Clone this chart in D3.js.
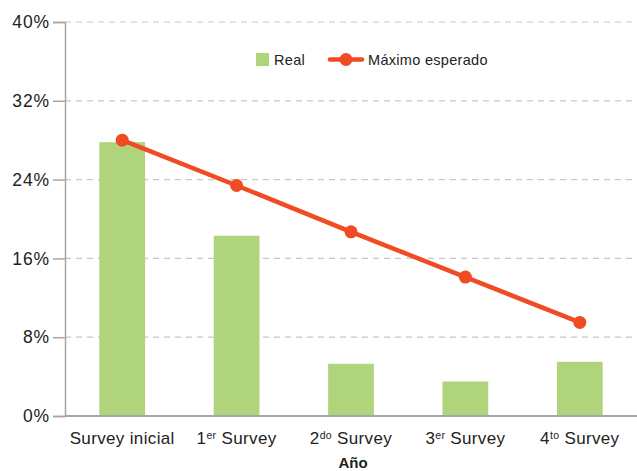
<!DOCTYPE html>
<html>
<head>
<meta charset="utf-8">
<script src="https://cdn.jsdelivr.net/npm/d3@7"></script>
<style>
  body { margin: 0; background: #fff; }
  svg { display: block; font-family: "Liberation Sans", Arial, sans-serif; }
</style>
</head>
<body>
<svg id="chart" width="637" height="471"></svg>
<script>
// Survey categories: [main text, superscript, rest]
const categories = ["Survey inicial", "1er Survey", "2do Survey", "3er Survey", "4to Survey"];
const categoryParts = [["Survey inicial", "", ""], ["1", "er", " Survey"], ["2", "do", " Survey"], ["3", "er", " Survey"], ["4", "to", " Survey"]];
const realValues = [27.8, 18.3, 5.3, 3.5, 5.5];
const maxExpected = [28.0, 23.4, 18.7, 14.1, 9.5];
const yTicks = [0, 8, 16, 24, 32, 40];

const svg = d3.select("#chart");
const margin = { left: 65, right: 0, top: 22, bottom: 55 };
const W = 637, H = 471;

const x = d3.scaleBand()
  .domain(categories)
  .range([margin.left, W - margin.right])
  .paddingInner(0.6)
  .paddingOuter(0.3);

const y = d3.scaleLinear()
  .domain([0, 40])
  .range([416, margin.top]);

// Dashed gridlines
svg.append("g")
  .selectAll("line")
  .data(yTicks.filter(d => d > 0))
  .join("line")
  .attr("x1", margin.left).attr("x2", W)
  .attr("y1", d => y(d)).attr("y2", d => y(d))
  .attr("stroke", "#c8c8c8")
  .attr("stroke-width", 1.2)
  .attr("stroke-dasharray", "6,5");

// Y axis
const yAxis = svg.append("g")
  .attr("transform", `translate(${margin.left},0)`)
  .call(d3.axisLeft(y).tickValues(yTicks).tickFormat(d => d + "%").tickSize(12).tickPadding(3));
yAxis.select(".domain").attr("stroke", "#a6a6a6").attr("stroke-width", 1.5);
yAxis.selectAll(".tick line").attr("stroke", "#a6a6a6").attr("stroke-width", 1.5);
yAxis.selectAll(".tick text")
  .attr("fill", "#222")
  .style("font-size", "17.5px")
  .style("letter-spacing", "0.9px")
  .style("font-family", "\"Liberation Sans\", Arial, sans-serif");

// Bars
svg.append("g")
  .selectAll("rect")
  .data(realValues)
  .join("rect")
  .attr("x", (d, i) => x(categories[i]))
  .attr("width", x.bandwidth())
  .attr("y", d => y(d))
  .attr("height", d => y(0) - y(d))
  .attr("fill", "#afd47c");

// X axis baseline
svg.append("line")
  .attr("x1", margin.left).attr("x2", W)
  .attr("y1", y(0)).attr("y2", y(0))
  .attr("stroke", "#a6a6a6").attr("stroke-width", 2);

// X labels with superscripts
const xl = svg.append("g")
  .selectAll("text")
  .data(categoryParts)
  .join("text")
  .attr("x", (d, i) => x(categories[i]) + x.bandwidth() / 2)
  .attr("y", 444)
  .attr("text-anchor", "middle")
  .attr("fill", "#222")
  .style("font-size", "17px")
  .style("letter-spacing", "0.35px");
xl.append("tspan").text(d => d[0]);
xl.filter(d => d[1]).append("tspan")
  .attr("dy", -5).style("font-size", "10.5px").text(d => d[1]);
xl.filter(d => d[1]).append("tspan")
  .attr("dy", 5).text(d => d[2]);

// Axis title
svg.append("text")
  .attr("x", (margin.left + W) / 2 + 2)
  .attr("y", 468)
  .attr("text-anchor", "middle")
  .attr("font-weight", "bold")
  .attr("fill", "#222")
  .style("font-size", "15px")
  .text("Año");

// Line series
const lineColor = "#f04b23";
const line = d3.line()
  .x((d, i) => x(categories[i]) + x.bandwidth() / 2)
  .y(d => y(d));
svg.append("path")
  .datum(maxExpected)
  .attr("d", line)
  .attr("fill", "none")
  .attr("stroke", lineColor)
  .attr("stroke-width", 4.5);
svg.append("g")
  .selectAll("circle")
  .data(maxExpected)
  .join("circle")
  .attr("cx", (d, i) => x(categories[i]) + x.bandwidth() / 2)
  .attr("cy", d => y(d))
  .attr("r", 6.5)
  .attr("fill", lineColor);

// Legend
const lg = svg.append("g");
lg.append("rect").attr("x", 256).attr("y", 53).attr("width", 13).attr("height", 13).attr("fill", "#afd47c");
lg.append("text").attr("x", 274).attr("y", 65).attr("fill", "#222")
  .style("font-size", "14.5px").style("letter-spacing", "0.3px").text("Real");
lg.append("line").attr("x1", 330).attr("x2", 362).attr("y1", 59.5).attr("y2", 59.5)
  .attr("stroke", lineColor).attr("stroke-width", 4.5).attr("stroke-linecap", "round");
lg.append("circle").attr("cx", 346).attr("cy", 59.5).attr("r", 6.5).attr("fill", lineColor);
lg.append("text").attr("x", 368).attr("y", 65).attr("fill", "#222")
  .style("font-size", "14.5px").style("letter-spacing", "0.3px").text("Máximo esperado");
</script>
</body>
</html>
